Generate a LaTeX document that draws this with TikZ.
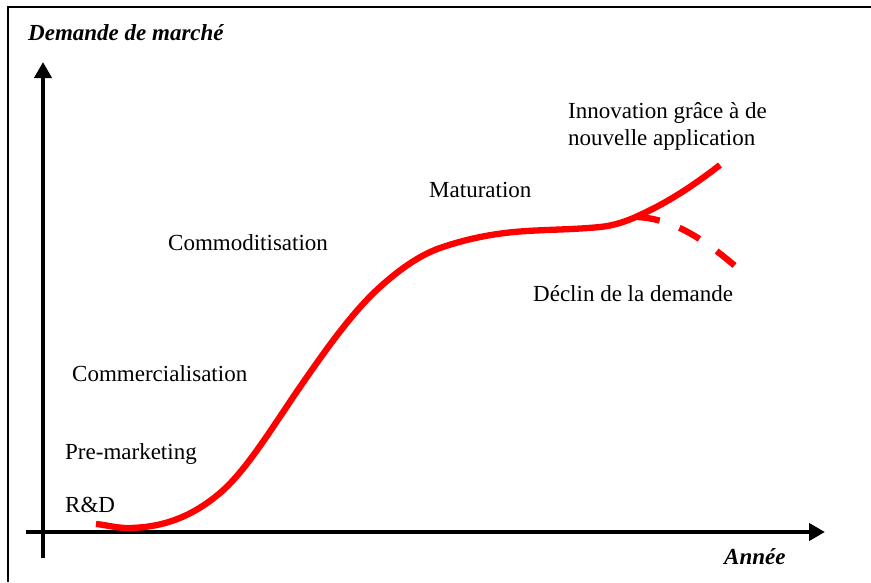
\documentclass[tikz,border=0pt]{standalone}
\usepackage{fontspec}
\setmainfont{Liberation Serif}
\usetikzlibrary{arrows.meta}
\begin{document}
\begin{tikzpicture}[x=1pt,y=-1pt,
  lbl/.style={anchor=base west,inner sep=0pt,font=\fontsize{23}{27}\selectfont},
  axlbl/.style={lbl,font=\fontsize{23}{27}\selectfont\bfseries\itshape},
  axis/.style={line width=4pt,-{Triangle[length=16pt,width=17pt]}},
  frame/.style={line width=2pt},
  curve/.style={red,line width=6.3pt},
  dashcurve/.style={red,line width=6.3pt,dash pattern=on 23pt off 21pt}]
\useasboundingbox (0,0) rectangle (871,582);
% frame
\draw[frame] (8,582) -- (8,7) -- (871,7);
% axes
\coordinate (yb) at (43,558);
\coordinate (yt) at (43,62);
\coordinate (xl) at (26,532);
\coordinate (xr) at (825,532);
\draw[axis] (yb) -- (yt);
\draw[axis] (xl) -- (xr);
% labels
\node[axlbl] (ylab) at (28,40) {Demande de marché};
\node[axlbl] (xlab) at (724,564) {Année};
\node[lbl] (rd) at (65,512) {R\&D};
\node[lbl] (pm) at (65,459) {Pre-marketing};
\node[lbl] (com) at (72,381) {Commercialisation};
\node[lbl] (cmd) at (168,250) {Commoditisation};
\node[lbl] (mat) at (429,197) {Maturation};
\node[lbl] (inn1) at (568,118) {Innovation grâce à de};
\node[lbl] (inn2) at (568,145) {nouvelle application};
\node[lbl] (dec) at (533,301) {Déclin de la demande};
% curve
\draw[curve] (96,524)
  .. controls (106.3,525) and (116.7,528) .. (127,528)
  .. controls (158,528) and (189,519.4) .. (220,493)
  .. controls (246.7,470.3) and (273.3,425.7) .. (300,387)
  .. controls (326.7,348.3) and (353.3,311) .. (380,287)
  .. controls (400,269) and (420,255) .. (440,248)
  .. controls (469,237.9) and (498,232.7) .. (527,231)
  .. controls (551.3,229.5) and (575.7,229.4) .. (600,227)
  .. controls (613.3,225.7) and (626.7,221.5) .. (640,215)
  .. controls (666.7,203) and (693.3,185.8) .. (720,165);
\draw[dashcurve] (637,217) .. controls (675,219) and (705,240) .. (741,271);
\end{tikzpicture}
\end{document}
